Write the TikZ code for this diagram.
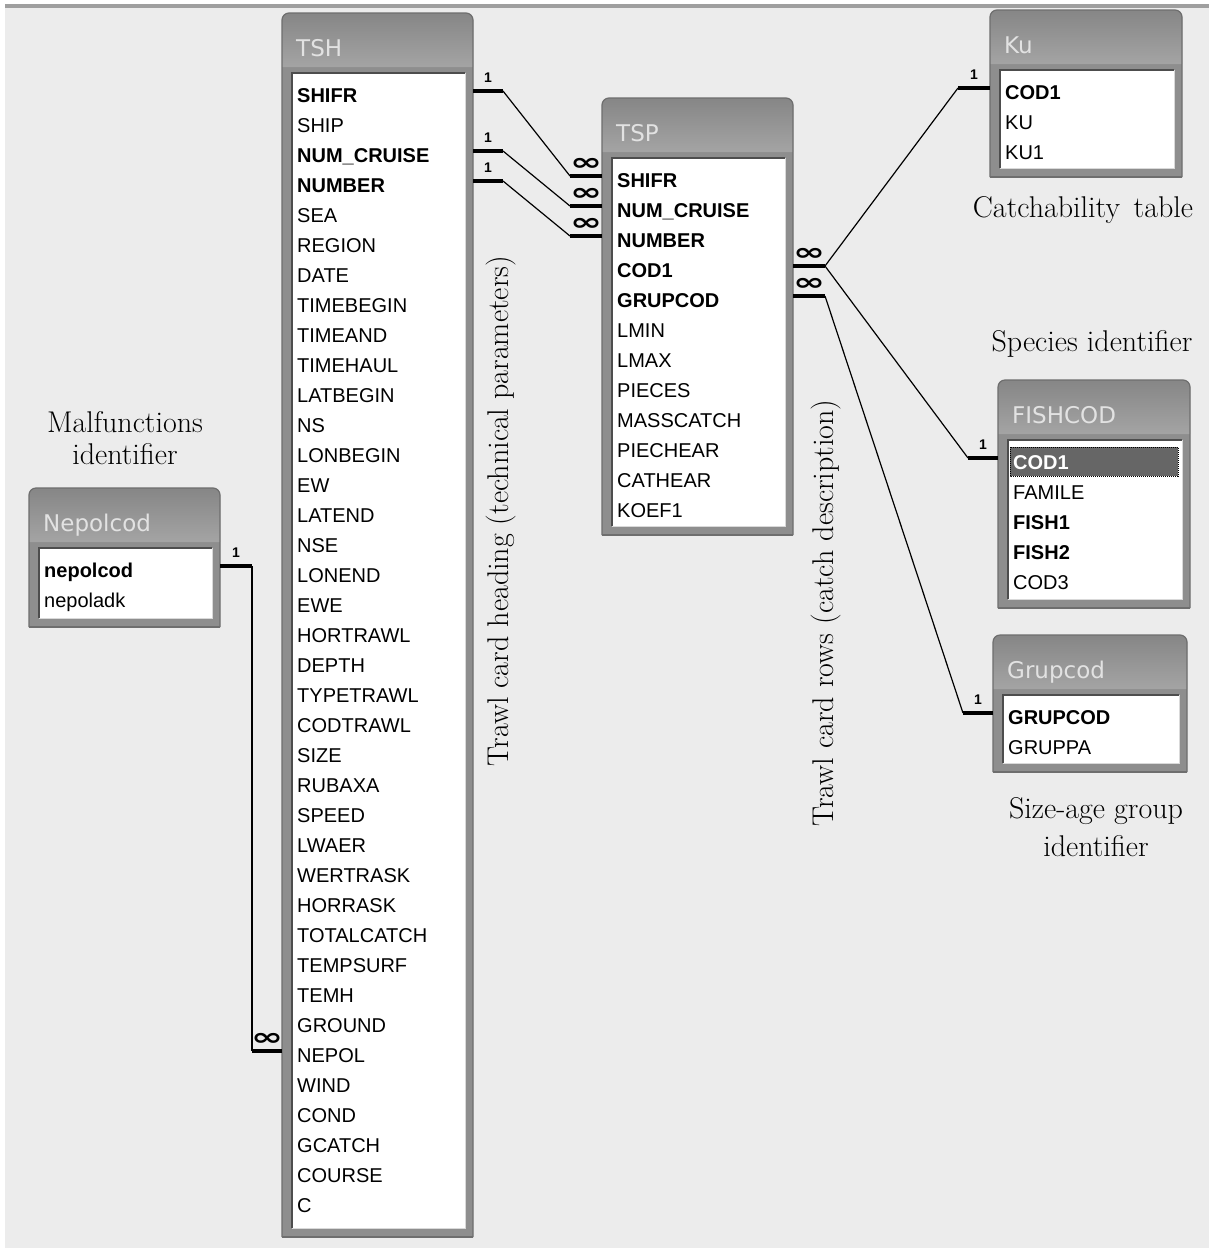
\documentclass[tikz,border=0pt]{standalone}
\usepackage{fontspec}
\newfontfamily\fieldfont{Liberation Sans}
\newfontfamily\titlefont{DejaVu Sans}
\usetikzlibrary{calc}
\definecolor{bgcol}{HTML}{ECECEC}
\definecolor{framecol}{HTML}{8E8E8E}
\definecolor{hdtop}{HTML}{868686}
\definecolor{hdbot}{HTML}{A4A4A4}
\definecolor{edgecol}{HTML}{6E6E6E}
\definecolor{titlecol}{HTML}{E2E2E2}
\definecolor{selcol}{HTML}{666666}
\tikzset{
 field/.style={font=\fieldfont\fontsize{20}{24}\selectfont, inner sep=0pt, anchor=base west, text=black},
 tbltitle/.style={font=\titlefont\fontsize{23}{27}\selectfont, inner sep=0pt, anchor=base west, text=titlecol},
 caption/.style={font=\fontsize{30}{34}\selectfont, inner sep=0pt, align=center},
 onelbl/.style={font=\fieldfont\bfseries\fontsize{14}{16}\selectfont, inner sep=0pt},
 manylbl/.style={font=\titlefont\bfseries\fontsize{24}{26}\selectfont, inner sep=0pt, xscale=1.6},
 bar/.style={line width=4pt, black},
 link/.style={line width=1.2pt, black},
}
% #1 id, #2 title, #3 x1, #4 y1, #5 x2, #6 y2, #7 rows, #8 extra code
\newcommand\dbtable[8]{%
 \fill[framecol,rounded corners=7pt] (#3,#6) -- (#3,#4) -- (#5,#4) -- (#5,#6);
 \shade[top color=hdtop,bottom color=hdbot,rounded corners=7pt] (#3,#4+54) -- (#3,#4) -- (#5,#4) -- (#5,#4+54);
 \draw[edgecol,line width=1.2pt,rounded corners=7pt] (#3,#6) -- (#3,#4) -- (#5,#4) -- (#5,#6);
 \draw[edgecol,line width=1.2pt] (#3,#6) -- (#5,#6);
 \fill[white] (#3+10,#4+60) rectangle (#5-8,#6-9);
 \draw[edgecol!70!black,line width=1.5pt] (#3+10,#6-9) -- (#3+10,#4+60) -- (#5-8,#4+60);
 \draw[white!85!black,line width=1pt] (#5-8,#4+60) -- (#5-8,#6-9) -- (#3+10,#6-9);
 #8
 \node[tbltitle] (#1-title) at (#3+14,#4+43) {#2};
 \coordinate (#1-L) at (#3,#4);
 \coordinate (#1-R) at (#5,#4);
 \foreach \t [count=\i] in {#7} {\node[field] (#1-\i) at (#3+15,#4+89+30*\i-30) {\t};}
}
\begin{document}
\begin{tikzpicture}[x=1pt,y=-1pt]
\useasboundingbox (0,0) rectangle (1209,1251);
\fill[white] (0,0) rectangle (1209,1251);
\fill[bgcol] (5,5) rectangle (1209,1248);
\fill[gray!75] (5,4) rectangle (1209,8);

\dbtable{TSH}{TSH}{282}{13}{473}{1237}{{\bfseries SHIFR},SHIP,{\bfseries NUM\_CRUISE},{\bfseries NUMBER},SEA,REGION,DATE,TIMEBEGIN,TIMEAND,TIMEHAUL,LATBEGIN,NS,LONBEGIN,EW,LATEND,NSE,LONEND,EWE,HORTRAWL,DEPTH,TYPETRAWL,CODTRAWL,SIZE,RUBAXA,SPEED,LWAER,WERTRASK,HORRASK,TOTALCATCH,TEMPSURF,TEMH,GROUND,NEPOL,WIND,COND,GCATCH,COURSE,C}{}
\dbtable{TSP}{TSP}{602}{98}{793}{535}{{\bfseries SHIFR},{\bfseries NUM\_CRUISE},{\bfseries NUMBER},{\bfseries COD1},{\bfseries GRUPCOD},LMIN,LMAX,PIECES,MASSCATCH,PIECHEAR,CATHEAR,KOEF1}{}
\dbtable{Ku}{Ku}{990}{10}{1182}{177}{{\bfseries COD1},KU,KU1}{}
\dbtable{FISHCOD}{FISHCOD}{998}{380}{1190}{608}{{\bfseries\color{white}COD1},FAMILE,{\bfseries FISH1},{\bfseries FISH2},COD3}{%
 \fill[selcol] (1010,447) rectangle (1178,476);
 \draw[black,densely dotted,line width=1pt] (1010,447) rectangle (1178,476);}
\dbtable{Grupcod}{Grupcod}{993}{635}{1187}{772}{{\bfseries GRUPCOD},GRUPPA}{}
\dbtable{Nepolcod}{Nepolcod}{29}{488}{220}{627}{{\bfseries nepolcod},nepoladk}{}

% TSH -> TSP
\foreach \a/\b/\n in {1/1/a,3/2/b,4/3/c} {
 \coordinate (\n1) at ($(TSH-R |- TSH-\a.base)+(0,-11)$);
 \draw[bar] (\n1) -- ++(30,0) coordinate (\n2);
 \coordinate (\n4) at ($(TSP-L |- TSP-\b.base)+(0,-11)$);
 \draw[bar] (\n4) -- ++(-32,0) coordinate (\n3);
 \draw[link] (\n2) -- (\n3);
 \node[onelbl] (one-\n) at ($(\n1)!0.5!(\n2)+(0,-13)$) {1};
 \node[manylbl] (many-\n) at ($(\n3)!0.5!(\n4)+(0,-12)$) {∞};
}

% TSP -> Ku, FISHCOD
\coordinate (p1) at ($(TSP-R |- TSP-4.base)+(0,-11)$);
\draw[bar] (p1) -- ++(32,0) coordinate (p2);
\node[manylbl] (many-p) at ($(p1)!0.5!(p2)+(0,-12)$) {∞};
\coordinate (k4) at ($(Ku-L |- Ku-1.base)+(0,-11)$);
\draw[bar] (k4) -- ++(-32,0) coordinate (k3);
\node[onelbl] (one-k) at ($(k3)!0.5!(k4)+(0,-13)$) {1};
\draw[link] (p2) -- (k3);
\coordinate (f4) at ($(FISHCOD-L |- FISHCOD-1.base)+(0,-11)$);
\draw[bar] (f4) -- ++(-30,0) coordinate (f3);
\node[onelbl] (one-f) at ($(f3)!0.5!(f4)+(0,-13)$) {1};
\draw[link] (p2) -- (f3);

% TSP -> Grupcod
\coordinate (g1) at ($(TSP-R |- TSP-5.base)+(0,-11)$);
\draw[bar] (g1) -- ++(32,0) coordinate (g2);
\node[manylbl] (many-g) at ($(g1)!0.5!(g2)+(0,-12)$) {∞};
\coordinate (h4) at ($(Grupcod-L |- Grupcod-1.base)+(0,-11)$);
\draw[bar] (h4) -- ++(-30,0) coordinate (h3);
\node[onelbl] (one-h) at ($(h3)!0.5!(h4)+(0,-13)$) {1};
\draw[link] (g2) -- (h3);

% Nepolcod -> TSH
\coordinate (n1) at ($(Nepolcod-R |- Nepolcod-1.base)+(0,-11)$);
\draw[bar] (n1) -- ++(32,0) coordinate (n2);
\node[onelbl] (one-n) at ($(n1)!0.5!(n2)+(0,-13)$) {1};
\coordinate (t4) at ($(TSH-L |- TSH-33.base)+(0,-11)$);
\draw[bar] (t4) -- ++(-30,0) coordinate (t3);
\node[manylbl] (many-t) at ($(t3)!0.5!(t4)+(0,-12)$) {∞};
\draw[link] (n2) -- (t3);

% captions
\node[caption,font=\fontsize{30}{32}\selectfont] (capNep) at (125,438) {Malfunctions\\identifier};
\node[caption] (capKu) at (1083,210) {Catchability\hspace{0.15em} table};
\node[caption] (capFish) at (1092,344) {Species identifier};
\node[caption,font=\fontsize{30}{38}\selectfont] (capGrp) at (1096,827) {Size-age group\\identifier};
\node[caption,rotate=90] (capTSH) at (501,511) {Trawl card heading (technical parameters)};
\node[caption,rotate=90] (capTSP) at (826,613) {Trawl card rows (catch description)};
\end{tikzpicture}
\end{document}
